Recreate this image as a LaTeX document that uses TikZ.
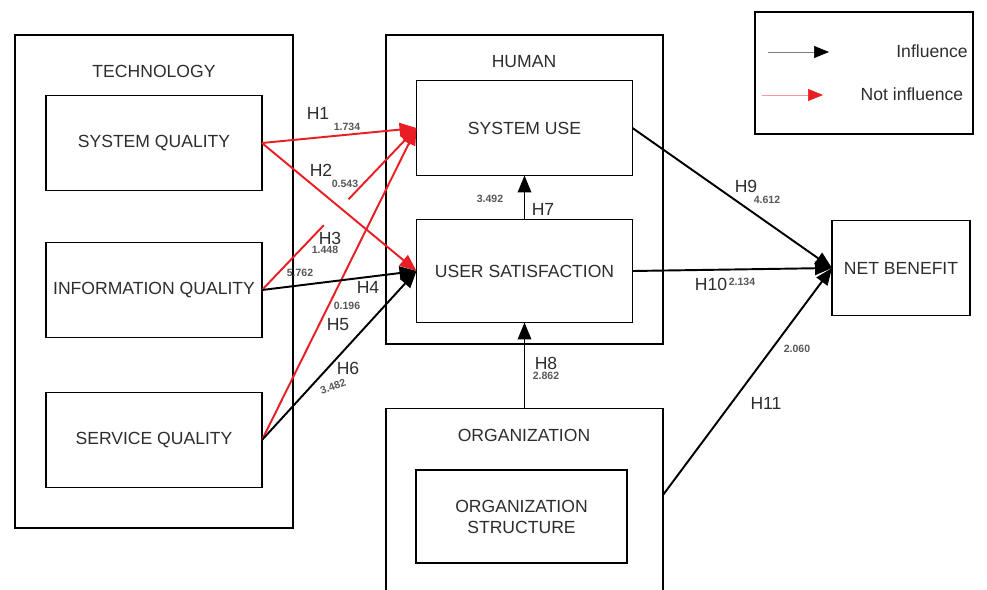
\documentclass[tikz,border=0pt]{standalone}
\usepackage{fontspec}
\setmainfont{Liberation Sans}
\usepackage{xcolor}
\usetikzlibrary{positioning}
\usetikzlibrary{arrows.meta}
\usetikzlibrary{calc}
\definecolor{txtgray}{RGB}{45,45,45}
\definecolor{nired}{RGB}{232,30,36}

\begin{document}
\begin{tikzpicture}
  [ x=0.02cm, y=-0.02cm,
    box/.style={draw=black, line width=1pt, minimum width=4.32cm,
      minimum height=1.9cm, outer sep=0pt, align=center,
      font=\fontsize{10}{12}\selectfont, text=txtgray},
    group/.style={draw=black, line width=1pt, outer sep=0pt, inner sep=0pt},
    inf/.style={draw=black, line width=1.1pt, -{Triangle[length=3.4mm,width=2.7mm]}},
    ninf/.style={draw=nired, line width=1.1pt, -{Triangle[length=3.4mm,width=2.7mm]}},
    hyp/.style={font=\fontsize{10}{12}\selectfont, text=txtgray, inner sep=0pt},
    val/.style={font=\fontsize{6}{7}\selectfont\bfseries, text=txtgray!80, inner sep=0pt}
  ]
  \useasboundingbox (0,0) rectangle (987,589);

  % groups
  \node (tech)  at (154,281.5) [group, minimum width=5.56cm, minimum height=9.86cm] {};
  \node (human) at (524.5,189.5) [group, minimum width=5.54cm, minimum height=6.18cm] {};
  \node (orgn)  at (524.5,512) [group, minimum width=5.54cm, minimum height=4.14cm] {};
  \node (legend) at (864,73) [group, minimum width=4.36cm, minimum height=2.44cm] {};

  \node (techlbl)  at (154,71)  [hyp] {TECHNOLOGY};
  \node (humanlbl) at (524,62)  [hyp] {HUMAN};
  \node (orgnlbl)  at (524,435) [hyp] {ORGANIZATION};

  % boxes
  \node (sq) at (154,143) [box] {SYSTEM QUALITY};
  \node (iq) at (154,290) [box] {INFORMATION QUALITY};
  \node (sv) at (154,440) [box] {SERVICE QUALITY};
  \node (su) at (524.5,128) [box] {SYSTEM USE};
  \node (us) at (524.5,271) [box, minimum height=2.06cm] {USER SATISFACTION};
  \node (os) at (521.5,516.5) [box, minimum width=4.22cm, minimum height=1.86cm] {ORGANIZATION\\STRUCTURE};
  \node (nb) at (901,268) [box, minimum width=2.76cm] {NET BENEFIT};

  % not influence
  \draw [ninf] (sq.east) -- (su.west);
  \draw [ninf] (sq.east) -- (us.west);
  \draw [ninf, -] (iq.east) -- ($(iq.east)!0.4!(su.west)$);
  \draw [ninf] ($(iq.east)!0.56!(su.west)$) -- (su.west);
  \draw [ninf] (sv.east) -- (su.west);

  % influence
  \draw [inf] (iq.east) -- (us.west);
  \draw [inf] (sv.east) -- (us.west);
  \draw [inf] (us.north) -- (su.south);
  \draw [inf] (orgn.north) -- (us.south);
  \draw [inf] (su.east) -- (nb.west);
  \draw [inf] (us.east) -- (nb.west);
  \draw [inf] ([yshift=0.34cm]orgn.east) -- (nb.west);

  \node (h1)  at (318,113) [hyp] {H1};
  \node (v1)  at (347,127) [val] {1.734};
  \node (h2)  at (321,170) [hyp] {H2};
  \node (v2)  at (345,184) [val] {0.543};
  \node (h3)  at (330,238) [hyp] {H3};
  \node (v3)  at (325,250) [val] {1.448};
  \node (v4)  at (300,273) [val] {5.762};
  \node (h4)  at (368,287) [hyp] {H4};
  \node (v5)  at (347,306) [val] {0.196};
  \node (h5)  at (338,325) [hyp] {H5};
  \node (h6)  at (348,368) [hyp] {H6};
  \node (v6)  at (333,387) [val, rotate=20] {3.482};
  \node (v7)  at (490,199) [val] {3.492};
  \node (h7)  at (543,209) [hyp] {H7};
  \node (h8)  at (546,363) [hyp] {H8};
  \node (v8)  at (546,376) [val] {2.862};
  \node (h9)  at (746,186) [hyp] {H9};
  \node (v9)  at (767,200) [val] {4.612};
  \node (h10) at (711,284) [hyp] {H10};
  \node (v10) at (742,282) [val] {2.134};
  \node (v11) at (797,349) [val] {2.060};
  \node (h11) at (766,403) [hyp] {H11};

  % legend
  \coordinate (la1) at (768,52);
  \coordinate (lb1) at (829,52);
  \coordinate (la2) at (762,95);
  \coordinate (lb2) at (823,95);
  \draw [gray, line width=0.4pt, -{Triangle[length=3mm,width=2.4mm,color=black]}] (la1) -- (lb1);
  \draw [nired!45, line width=0.4pt, -{Triangle[length=3mm,width=2.4mm,color=nired]}] (la2) -- (lb2);
  \node (linf)  at (932,51) [hyp] {Influence};
  \node (lninf) at (912,94) [hyp] {Not influence};
\end{tikzpicture}
\end{document}
